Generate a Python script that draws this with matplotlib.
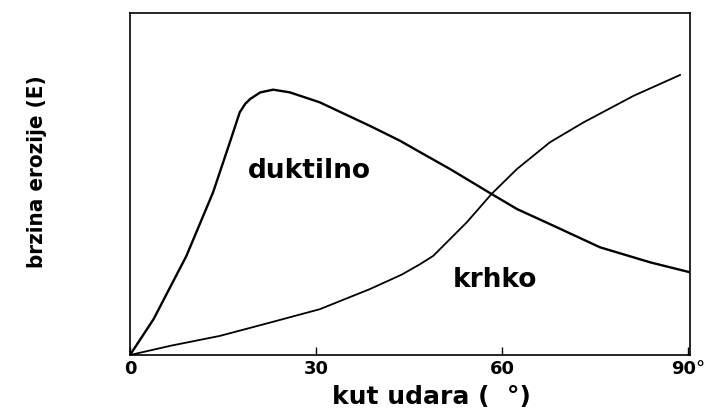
import matplotlib
matplotlib.use('Agg')
import matplotlib.pyplot as plt

# kut udara (stupnjevi) i relativna brzina erozije, ocitano sa slike
kut_duktilno = [0, 3.8, 9.1, 13.4, 16.1, 17.7, 18.6, 19.4, 21, 23.1, 25.8, 30.6,
                38.7, 43.5, 46.8, 51.6, 58.3, 62.4, 67.7, 75.8, 83.9, 90.3]
erozija_duktilno = [0, 0.105, 0.29, 0.476, 0.622, 0.71, 0.735, 0.749, 0.768, 0.776,
                    0.768, 0.739, 0.67, 0.627, 0.593, 0.544, 0.471, 0.427, 0.383,
                    0.315, 0.271, 0.242]

kut_krhko = [0, 6.5, 14.5, 22.6, 30.6, 38.7, 43.8, 46.8, 48.9, 54.3, 58.3, 62.4,
             67.7, 73.1, 81.2, 88.7]
erozija_krhko = [0, 0.027, 0.056, 0.095, 0.134, 0.193, 0.235, 0.266, 0.29, 0.388,
                 0.471, 0.544, 0.622, 0.68, 0.758, 0.819]

x_ticks = [0, 30, 60, 90]
x_tick_labels = ['0', '30', '60', '90°']

fig = plt.figure(figsize=(7.05, 4.14), dpi=100)
ax = fig.add_axes([0.1844, 0.14, 0.7943, 0.826])

ax.plot(kut_duktilno, erozija_duktilno, color='black', linewidth=1.7)
ax.plot(kut_krhko, erozija_krhko, color='black', linewidth=1.3)

ax.text(19, 0.52, 'duktilno', fontsize=19, fontweight='bold', va='baseline')
ax.text(52.1, 0.203, 'krhko', fontsize=19, fontweight='bold', va='baseline')

ax.set_xlim(0, 90.3)
ax.set_ylim(0, 1)
ax.set_xticks(x_ticks)
ax.set_xticklabels(x_tick_labels, fontsize=13, fontweight='bold')
ax.set_yticks([])
ax.tick_params(axis='x', direction='in', length=6, width=1, pad=3)
for s in ax.spines.values():
    s.set_linewidth(1.2)

ax.set_xlabel('kut udara (  °)', fontsize=18, fontweight='bold')
ax.xaxis.set_label_coords(0.539, -0.085)
ax.set_ylabel('brzina erozije (E)', fontsize=16, fontweight='bold',
              family='DejaVu Sans', fontstretch='condensed')
ax.yaxis.set_label_coords(-0.148, 0.538)

fig.savefig('out.png', dpi=100)
